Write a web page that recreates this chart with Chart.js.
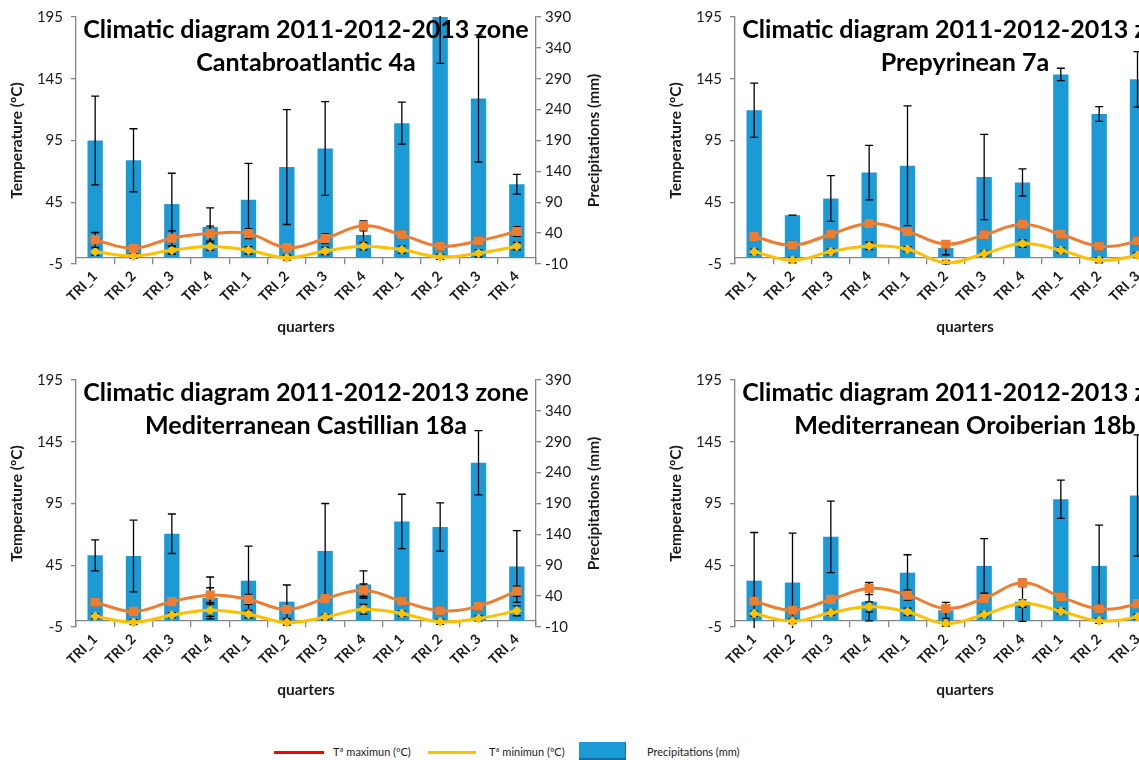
<!DOCTYPE html>
<html>
<head>
<meta charset="utf-8">
<script src="https://cdn.jsdelivr.net/npm/chart.js@4.4.1/dist/chart.umd.min.js"></script>
<style>
  html, body { margin: 0; padding: 0; background: #fff; }
  #page { position: relative; width: 1139px; height: 760px; overflow: hidden; background: #fff; font-family: Lato, sans-serif; }
  .panel { position: absolute; width: 620px; height: 345px; }
  #legend span { position: absolute; }
  .lt { font-size: 11px; color: #222; line-height: 12px; }
</style>
</head>
<body>
<div id="page">
  <div class="panel" style="left:0;top:0"><canvas id="c1" width="620" height="345"></canvas></div>
  <div class="panel" style="left:659px;top:0"><canvas id="c2" width="620" height="345"></canvas></div>
  <div class="panel" style="left:0;top:363px"><canvas id="c3" width="620" height="345"></canvas></div>
  <div class="panel" style="left:659px;top:363px"><canvas id="c4" width="620" height="345"></canvas></div>
  <div id="legend">
    <span style="left:274px;top:751px;width:50px;height:3px;background:#ff0000"></span>
    <span class="lt" style="left:333px;top:746px">Tª maximun (ºC)</span>
    <span style="left:428px;top:751px;width:48px;height:3px;background:#ffc000"></span>
    <span class="lt" style="left:489px;top:746px">Tª minimun (ºC)</span>
    <span style="left:579px;top:742px;width:46px;height:16px;background:#1b9ad6;border-right:1px solid #156f9c;border-bottom:2px solid #156f9c"></span>
    <span class="lt" style="left:647px;top:746px">Precipitations (mm)</span>
  </div>
</div>
<script>
var quarters = ["TRI_1", "TRI_2", "TRI_3", "TRI_4", "TRI_1", "TRI_2", "TRI_3", "TRI_4", "TRI_1", "TRI_2", "TRI_3", "TRI_4"];

// Cantabroatlantic 4a
var cantPrecip = [190, 158, 87, 50, 94, 147, 177, 37, 218, 400, 258, 119];
var cantPrecipErr = [72, 51, 50, 31, 59, 93, 76, 18, 34, 85, 103, 16];
var cantTmax = [14.5, 7.7, 15.9, 19.6, 19.6, 8.3, 15.6, 25.9, 18.6, 9.4, 13.7, 21.3];
var cantTmaxErr = [6, 3, 6, 6, 4, 3, 4, 4, 3, 3, 3, 4];
var cantTmin = [5, 1.5, 6.1, 9.1, 6.1, 0.1, 5.6, 9.4, 6.6, 0.7, 3.7, 9.4];
var cantTminErr = [3, 2, 3, 3, 3, 2, 3, 3, 3, 2, 3, 3];

// Prepyrinean 7a
var prepPrecip = [239, 69, 96, 138, 149, 16, 131, 122, 297, 233, 289, 250];
var prepPrecipErr = [44, 0, 37, 44, 97, 11, 69, 22, 10, 12, 45, 40];
var prepTmax = [17.2, 10.2, 19.1, 27.8, 21.3, 11, 18.6, 27.2, 19.1, 9.4, 13.7, 26];
var prepTmaxErr = [3, 3, 3, 3, 3, 3, 3, 3, 3, 3, 3, 3];
var prepTmin = [5, -2, 5, 9.6, 7, -4, 3.4, 11.5, 6.1, -2, 2.1, 10];
var prepTminErr = [2, 2, 2, 3, 2, 2, 2, 3, 2, 2, 2, 3];

// Mediterranean Castillian 18a
var castPrecip = [106, 105, 141, 37, 65, 31, 113, 59, 161, 152, 256, 88];
var castPrecipErr = [25, 58, 32, 34, 56, 27, 77, 22, 44, 39, 52, 58];
var castTmax = [15.1, 7.6, 15.6, 20.8, 17.3, 9.2, 18, 24.8, 15.9, 8.1, 11.9, 24];
var castTmaxErr = [3, 3, 3, 6, 4, 3, 3, 5, 3, 3, 3, 4];
var castTmin = [3.8, -1.1, 4.6, 8.6, 5.4, -1.4, 3, 9.4, 5.9, -0.8, 1.9, 8.1];
var castTminErr = [2, 2, 2, 5, 3, 2, 2, 4, 2, 2, 2, 4];

// Mediterranean Oroiberian 18b
var oroiPrecip = [65, 62, 136, 31, 78, 17, 89, 31, 197, 89, 203, 120];
var oroiPrecipErr = [78, 80, 58, 31, 29, 13, 44, 32, 31, 66, 98, 40];
var oroiTmax = [15.9, 8.6, 17.3, 26.2, 20.8, 10, 18.1, 30.8, 19.4, 9.7, 14, 28];
var oroiTmaxErr = [3, 3, 3, 5, 4, 3, 3, 3, 3, 3, 3, 3];
var oroiTmin = [5.9, -0.3, 6.5, 11.3, 7.3, -2.2, 5.1, 14, 7.8, 0, 3.2, 12];
var oroiTminErr = [2, 2, 2, 4, 3, 2, 2, 3, 2, 2, 2, 3];

Chart.defaults.font.family = "Lato";
Chart.defaults.color = "#1a1a1a";

function drawErrors(chart, args) {
  var ds = chart.data.datasets[args.index];
  var meta = args.meta;
  var scale = chart.scales[meta.yAxisID];
  var ctx = chart.ctx;
  var a = chart.chartArea;
  ctx.save();
  ctx.beginPath();
  ctx.rect(a.left, a.top - 1, a.right - a.left, a.bottom - a.top + 2);
  ctx.clip();
  ctx.strokeStyle = "#000";
  ctx.lineWidth = 1.3;
  meta.data.forEach(function (el, i) {
    var v = ds.data[i], e = ds.errors[i];
    var yHi = scale.getPixelForValue(v + e);
    var yLo = scale.getPixelForValue(v - e);
    ctx.beginPath();
    ctx.moveTo(el.x, yHi); ctx.lineTo(el.x, yLo);
    ctx.moveTo(el.x - 4, yHi); ctx.lineTo(el.x + 4, yHi);
    ctx.moveTo(el.x - 4, yLo); ctx.lineTo(el.x + 4, yLo);
    ctx.stroke();
  });
  ctx.restore();
}

// error bars: under the line markers, over the bars
var errorBars = {
  id: "errorBars",
  beforeDatasetDraw: function (chart, args) {
    var ds = chart.data.datasets[args.index];
    if (ds.errors && ds.type === "line") drawErrors(chart, args);
  },
  afterDatasetDraw: function (chart, args) {
    var ds = chart.data.datasets[args.index];
    if (ds.errors && ds.type === "bar") drawErrors(chart, args);
  }
};

// title over the plot + right axis title reading upwards
var zoneTitle = {
  id: "zoneTitle",
  afterDraw: function (chart, args, opts) {
    var ctx = chart.ctx, a = chart.chartArea;
    var cx = (a.left + a.right) / 2;
    ctx.save();
    ctx.font = "bold 24px Lato";
    var size = 24 * 445 / ctx.measureText(opts.lines[0]).width;
    ctx.font = "bold " + size.toFixed(1) + "px Lato";
    ctx.fillStyle = "#000";
    ctx.textAlign = "center";
    ctx.textBaseline = "middle";
    opts.lines.forEach(function (t, i) {
      ctx.fillText(t, cx, a.top + 13 + i * 33);
    });
    ctx.font = "bold 15.5px Lato";
    ctx.fillStyle = "#1a1a1a";
    ctx.translate(a.right + 58, (a.top + a.bottom) / 2);
    ctx.rotate(-Math.PI / 2);
    ctx.fillText("Precipitations (mm)", 0, 0);
    ctx.restore();
  }
};

var axisGray = "#868686";

function makeChart(id, zone, precip, precipErr, tmax, tmaxErr, tmin, tminErr) {
  return new Chart(id, {
    type: "bar",
    data: {
      labels: quarters,
      datasets: [{
        type: "line",
        label: "Tª maximun (ºC)",
        data: tmax,
        errors: tmaxErr,
        yAxisID: "y",
        order: 1,
        borderColor: "#ee7d31",
        backgroundColor: "#ee7d31",
        borderWidth: 3,
        tension: 0.4,
        pointStyle: "rect",
        pointRadius: 6.5,
        pointBorderWidth: 0
      }, {
        type: "line",
        label: "Tª minimun (ºC)",
        data: tmin,
        errors: tminErr,
        yAxisID: "y",
        order: 2,
        borderColor: "#ffc000",
        backgroundColor: "#ffc000",
        borderWidth: 3,
        tension: 0.4,
        pointStyle: "rectRot",
        pointRadius: 5,
        pointBorderWidth: 0
      }, {
        type: "bar",
        label: "Precipitations (mm)",
        data: precip,
        errors: precipErr,
        yAxisID: "y1",
        order: 3,
        backgroundColor: "#1b9ad6",
        barPercentage: 0.4,
        categoryPercentage: 1
      }]
    },
    options: {
      responsive: false,
      animation: false,
      // the x axis sits at 0 ºC, so its room is kept with bottom padding
      layout: { padding: { top: 17, left: 0, right: 0, bottom: 81 } },
      plugins: {
        legend: { display: false },
        tooltip: { enabled: false },
        zoneTitle: { lines: ["Climatic diagram 2011-2012-2013 zone", zone] }
      },
      scales: {
        x: {
          position: { y: 0 },
          grid: { offset: true, drawOnChartArea: false, color: axisGray, tickLength: 6, lineWidth: 1.3 },
          border: { color: axisGray, width: 1.3 },
          ticks: { autoSkip: false, minRotation: 45, maxRotation: 45, padding: 4, font: { weight: "bold", size: 14 } },
          title: { display: true, text: "quarters", font: { weight: "bold", size: 15.5 }, padding: { top: 0, bottom: 3 } },
          afterFit: function (s) { s.height = 81; }
        },
        y: {
          position: "left",
          min: -5,
          max: 195,
          ticks: { stepSize: 50, padding: 8, font: { size: 15 } },
          grid: { drawOnChartArea: false, color: axisGray, tickLength: 5, lineWidth: 1.3 },
          border: { color: axisGray, width: 1.3 },
          title: { display: true, text: "Temperature (ºC)", font: { weight: "bold", size: 15.5 }, padding: { top: 8, bottom: 0 } },
          afterFit: function (s) { s.width = 76; }
        },
        y1: {
          position: "right",
          min: -10,
          max: 390,
          ticks: { stepSize: 50, padding: 4, font: { size: 15 } },
          grid: { drawOnChartArea: false, color: axisGray, tickLength: 5, lineWidth: 1.3 },
          border: { color: axisGray, width: 1.3 },
          afterFit: function (s) { s.width = 84; }
        }
      }
    },
    plugins: [errorBars, zoneTitle]
  });
}

makeChart("c1", "Cantabroatlantic 4a", cantPrecip, cantPrecipErr, cantTmax, cantTmaxErr, cantTmin, cantTminErr);
makeChart("c2", "Prepyrinean 7a", prepPrecip, prepPrecipErr, prepTmax, prepTmaxErr, prepTmin, prepTminErr);
makeChart("c3", "Mediterranean Castillian 18a", castPrecip, castPrecipErr, castTmax, castTmaxErr, castTmin, castTminErr);
makeChart("c4", "Mediterranean Oroiberian 18b", oroiPrecip, oroiPrecipErr, oroiTmax, oroiTmaxErr, oroiTmin, oroiTminErr);
</script>
</body>
</html>
